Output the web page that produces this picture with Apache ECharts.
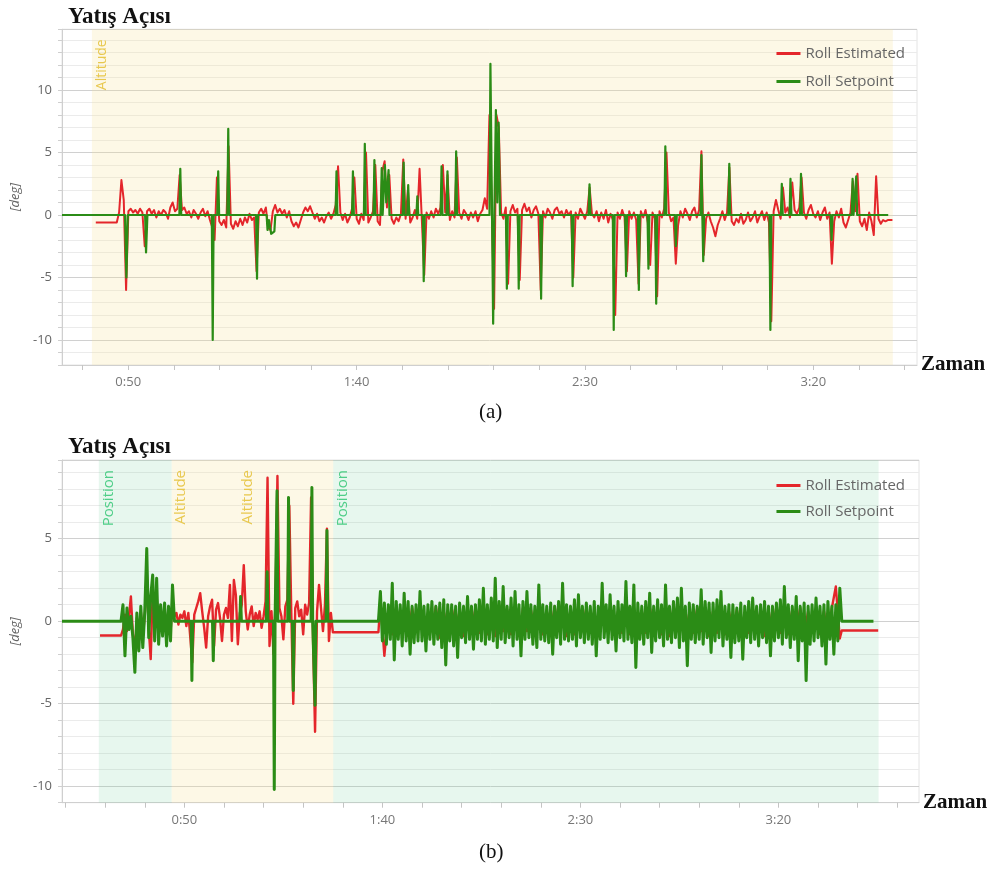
<!DOCTYPE html>
<html>
<head>
<meta charset="utf-8">
<title>Yatış Açısı</title>
<script src="https://cdn.jsdelivr.net/npm/echarts@6/dist/echarts.min.js"></script>
<style>
  html, body { margin: 0; padding: 0; background: #fff; }
  #chart { width: 992px; height: 870px; }
</style>
</head>
<body>
<div id="chart"></div>
<script>
// ---- chart (a) ----
// roll estimated, logged every 0.51 s starting at 42.9 s
const estA_t0 = 42.9, estA_dt = 0.51
const estA = [
  -0.6,-0.6,-0.6,-0.6,-0.6,-0.6,-0.6,-0.6,-0.6,-0.6,
  0.2,2.8,1.2,-6.0,0.3,0.5,0.2,0.4,0.1,0.5,
  0.2,-2.5,0.3,0.5,0.1,0.4,-0.2,0.3,0.0,0.4,
  0.2,-0.3,0.6,1.0,0.3,0.5,3.2,0.4,0.6,0.1,
  0.3,-0.2,0.4,0.1,-0.3,0.2,0.5,-0.1,0.3,-0.4,
  -1.0,-2.0,3.0,-0.5,-0.8,-0.4,-1.0,5.5,-0.7,-1.1,
  -0.5,-0.9,-0.3,-0.8,-0.2,-0.6,0.1,-0.4,-0.2,-4.5,
  0.2,0.5,0.1,0.6,-1.0,-1.2,0.3,0.8,0.2,0.5,
  0.1,0.4,-0.2,0.3,-0.5,-0.9,-0.6,-1.0,-0.4,0.2,
  0.6,0.3,0.7,0.2,-0.3,0.1,-0.5,-0.2,-0.6,-0.1,
  0.2,-0.3,0.1,0.8,3.9,0.2,-0.4,0.1,-0.6,-0.2,
  0.5,3.0,-0.3,-0.7,0.1,-0.4,5.0,-0.6,-0.2,0.3,
  4.0,-0.5,-0.8,3.5,4.3,0.6,3.2,-0.3,-0.7,-0.2,
  -0.5,0.1,4.45,-0.3,2.0,-0.6,-0.2,0.4,-0.3,3.7,
  -0.5,-4.8,0.2,-0.3,0.3,-0.2,0.5,0.1,0.6,4.0,
  0.2,3.2,-0.4,0.3,-0.2,4.6,0.2,-0.3,0.4,0.1,
  -0.4,0.2,-0.2,0.3,-0.5,0.1,0.4,1.35,0.5,8.0,
  0.3,-7.5,8.0,7.0,0.2,-0.3,0.6,-5.5,0.3,0.8,
  0.2,0.5,-5.2,0.4,0.9,0.3,0.6,-0.2,0.4,0.7,
  0.1,-6.0,0.3,-0.2,0.5,0.2,-0.3,0.4,0.6,0.1,
  0.3,-0.2,0.4,0.0,0.3,-5.0,0.2,-0.3,0.5,0.1,
  -0.3,0.3,2.2,0.1,-0.2,0.3,-0.5,0.2,-0.3,0.4,
  -0.6,0.1,-0.4,-8.0,0.2,-0.3,0.4,-0.2,-4.5,0.3,
  -0.3,0.2,-0.4,-5.5,0.3,-0.2,0.4,-0.6,-4.0,0.2,
  -0.3,-6.5,0.3,-0.2,0.5,5.0,0.2,-0.5,-0.2,-3.9,
  -0.8,0.3,-0.2,0.5,0.1,-0.4,0.3,0.6,-0.2,0.4,
  5.1,-3.2,-0.3,0.2,-0.5,-1.0,-1.7,-0.8,-0.3,0.3,
  -0.4,0.2,3.8,-0.5,-0.8,-0.3,-0.6,0.1,-0.7,-0.4,
  0.2,-0.5,-0.2,0.3,-0.6,-0.1,0.3,-0.4,0.2,-0.6,
  -8.5,0.3,1.2,0.4,-0.3,2.2,0.2,0.6,-0.2,2.6,
  0.4,0.1,0.6,3.0,0.2,-0.3,0.4,0.8,0.1,-0.2,
  0.3,-0.4,0.2,0.6,-0.3,0.2,-3.9,-0.5,0.3,-0.2,
  0.5,-0.6,-1.0,-0.4,0.2,2.7,0.3,3.3,-0.5,-0.9,
  -0.3,-1.2,0.2,-0.5,-1.6,3.1,-0.3,-0.7,-0.4,-0.5,
  -0.4,-0.4,-0.4
]
// roll setpoint [s, deg]
const setA = [
  [35.5,0],[49.3,0],[49.6,-5.0],[49.9,0],[53.7,0],[53.9,-3.0],[54.2,0],
  [61.2,0],[61.4,3.7],[61.6,0],[68.3,0],[68.5,-10.0],[68.7,0],[69.5,0],[69.7,3.5],[69.9,0],
  [71.7,0],[71.9,6.9],[72.1,0],[78.0,0],[78.2,-5.1],[78.4,0],
  [80.3,0],[80.5,-1.2],[80.8,-0.4],[81.3,-1.5],[82.0,-1.3],[82.2,0],
  [95.4,0],[95.6,3.5],[95.8,0],[99.0,0],[99.2,3.5],[99.4,0],[101.6,0],[101.8,5.7],[102.0,0],
  [103.7,0],[103.9,4.4],[104.1,0],[105.3,0],[105.5,3.75],[105.7,0],
  [106.0,0],[106.2,4.0],[106.5,1.0],[107.0,3.6],[107.2,0],
  [110.1,0],[110.3,4.2],[110.5,0],[111.1,0],[111.3,2.4],[111.5,0],[113.1,0],[113.3,1.5],[113.5,0],
  [114.5,0],[114.7,-5.3],[114.9,0],[118.4,0],[118.6,3.9],[118.8,0],[119.7,0],[119.9,3.5],[120.1,0],
  [121.6,0],[121.8,5.1],[122.0,0],
  [129.1,0],[129.3,12.1],[129.6,2.0],[129.9,-8.7],[130.2,1.0],[130.5,8.4],[130.8,1.0],[131.1,7.4],[131.4,0],
  [132.7,0],[132.9,-5.9],[133.1,0],[135.3,0],[135.5,-5.9],[135.7,0],[140.2,0],[140.4,-6.7],[140.6,0],
  [147.1,0],[147.3,-5.7],[147.5,0],[150.8,0],[151.0,2.45],[151.2,0],
  [156.1,0],[156.3,-9.2],[156.5,0],[158.8,0],[159.0,-4.9],[159.2,0],[161.6,0],[161.8,-6.0],[162.0,0],
  [163.7,0],[163.9,-4.3],[164.1,0],[165.4,0],[165.6,-7.1],[165.8,0],[167.4,0],[167.6,5.5],[167.8,0],
  [169.7,0],[169.9,-2.5],[170.1,0],[175.3,0],[175.5,4.8],[175.7,0],[175.9,-3.7],[176.1,0],
  [181.4,0],[181.6,4.1],[181.8,0],[190.4,0],[190.6,-9.2],[190.8,0],[192.9,0],[193.1,2.5],[193.3,0],
  [194.8,0],[195.0,2.9],[195.2,0],[197.1,0],[197.3,3.3],[197.5,0],[203.8,0],[204.0,-2.0],[204.2,0],
  [208.4,0],[208.6,2.9],[208.8,0],[209.2,0],[209.4,3.1],[209.6,0],[216.4,0]
]
const bandsA = [[42.05, 217.4, 'Altitude']]

// ---- chart (b) ----
const estB_pre = [[28.7,-0.87],[34.0,-0.87]]
const estB_burst_t0 = 34.5, estB_burst_dt = 0.5
const estB_burst = [
  -0.5,0.4,-0.6,0.3,1.5,-0.8,-1.8,0.2,-1.0,0.6,
  -0.9,0.3,3.0,-0.4,-2.3,1.8,-0.7,1.5,-0.8,0.6,
  -0.6,0.8,-0.9,0.5,-0.7,1.2,0.3,0.5,-0.2,0.4,
  0.2,0.6,-0.3,0.5,-1.0,-2.5,0.4,0.8,1.2,1.7,
  0.6,-0.4,-1.6,0.3,0.9,1.3,-1.5,0.7,1.1,0.2,
  -1.2,0.4,0.8,0.2,2.2,-1.2,2.5,1.6,-1.4,0.5,
  1.0,3.4,0.6,-0.5,0.4,0.9,-0.3,0.5,0.1,0.6,
  -0.4,0.3,1.2,8.7,-1.5,0.6,-2.0,1.0,8.8,0.8,
  0.3,-1.1,0.9,1.3,7.0,0.5,-5.0,0.8,1.2,0.3,
  0.7,-0.8,1.0,0.4,1.1,7.5,-1.2,-6.7,0.6,2.2,
  0.8,-0.6,1.0,5.6,-1.2,0.5,-0.67
]
const estB_hold = [[99.0,-0.67]]
const estB_dense_t0 = 99.5, estB_dense_dt = 1
const estB_dense = [
  1.2,-2.1,0.6,-0.8,0.9,-0.7,0.5,-0.9,0.8,-0.6,
  0.7,-0.8,0.5,-0.6,0.9,-1.0,0.6,-0.7,0.8,-0.5,
  0.6,-0.9,0.7,-0.6,0.8,-0.7,1.0,-0.8,0.6,-0.9,
  0.9,-0.6,0.7,-0.8,0.5,-0.9,0.8,-0.6,0.7,-0.7,
  0.8,-0.8,0.6,-0.7,0.9,-0.6,0.7,-0.9,0.5,-0.8,
  0.7,-0.6,0.8,-0.7,0.6,-0.9,0.9,-0.5,0.7,-0.8,
  0.6,-0.7,1.4,-0.8,0.8,-1.0,0.6,-0.7,0.9,-0.6,
  0.7,-0.8,0.6,-0.9,0.8,-0.6,0.7,-0.8,0.5,-0.7,
  0.8,-0.6,0.7,-0.9,0.6,-0.7,0.9,-0.8,0.6,-0.6,
  0.7,-0.8,0.5,-0.7,0.8,-0.6,0.6,-0.9,0.7,-0.8,
  0.9,-0.7,0.6,-0.8,0.7,-0.6,0.8,-0.9,0.6,-0.7,
  0.7,-0.8,0.6,-0.9,0.8,2.1,-1.05
]
const estB_post = [[216.0,-0.56],[225.2,-0.56]]

const setB_pre = [[19.1,0],[34.0,0]]
const setB_burst_t0 = 34.5, setB_burst_dt = 0.5
const setB_burst = [
  1.0,-2.1,0.8,-0.5,0.3,-1.0,-3.1,0.5,-1.8,0.9,
  -1.6,0.6,4.4,-1.0,1.5,2.8,-1.2,2.6,-1.4,1.0,
  -0.9,1.1,-1.5,0.9,-1.2,2.2
]
const setB_mid = [
  [47.5,0],[51.7,0],[51.9,-3.6],[52.1,0],[57.1,0],[57.3,-2.4],[57.5,0],[64.0,0],[64.2,1.5],[64.4,0],
  [70.7,0],[70.9,3.0],[71.1,0],[72.5,0],[72.7,-10.2],[72.9,0],[73.2,0],[73.4,7.9],[73.6,0],
  [76.1,0],[76.3,7.5],[76.5,0],[77.3,0],[77.5,-4.2],[77.7,0],[82.0,0],[82.2,8.1],[82.4,0],
  [82.8,0],[83.0,-5.1],[83.2,0],[85.8,0],[86.0,5.5],[86.2,0]
]
const setB_dense_t0 = 99.0, setB_dense_dt = 0.5
const setB_dense = [
  0,1.8,-1.2,1.1,-1.4,1.0,-1.1,2.3,-2.35,1.2,
  -1.1,1.0,-1.5,1.7,-1.2,1.2,-2.0,0.9,-1.3,1.0,
  -1.2,1.8,-1.2,0.9,-1.8,1.0,-1.1,1.2,-1.4,0.9,
  -1.1,1.1,-1.6,1.3,-2.65,1.0,-1.2,1.0,-1.5,0.9,
  -2.2,1.1,-1.0,0.9,-1.3,1.5,-1.1,0.9,-1.7,1.0,
  -1.1,1.3,-1.2,2.0,-1.4,1.0,-1.1,1.4,-1.2,2.6,
  -1.6,1.2,-1.1,2.1,-1.3,0.9,-1.0,1.4,-1.5,1.8,
  -1.1,1.0,-2.1,1.2,-1.1,1.8,-1.0,1.0,-1.4,0.9,
  -1.6,2.2,-1.1,1.0,-1.2,0.9,-1.3,1.1,-2.0,0.9,
  -1.0,1.2,-1.4,2.3,-1.1,1.0,-1.2,0.9,-1.1,1.3,
  -1.5,1.6,-1.0,0.9,-1.3,1.1,-1.1,0.9,-1.4,1.2,
  -2.1,0.9,-1.1,2.3,-1.0,1.0,-1.3,1.6,-1.1,0.9,
  -1.8,1.2,-1.0,1.0,-1.2,2.4,-1.1,0.9,-1.3,2.2,
  -2.8,1.1,-1.1,0.9,-1.4,1.2,-1.0,1.7,-1.9,0.9,
  -1.2,1.3,-1.0,1.0,-1.5,2.2,-1.1,0.9,-1.3,1.2,
  -1.0,1.4,-1.6,2.0,-1.2,0.9,-2.7,1.1,-1.1,1.0,
  -1.3,0.9,-1.1,1.9,-1.4,1.2,-1.0,1.1,-1.9,1.1,
  -1.2,1.3,-1.0,1.8,-1.5,0.9,-1.1,1.0,-2.2,1.0,
  -1.3,0.8,-1.2,1.1,-2.3,0.9,-1.0,1.2,-1.3,1.4,
  -1.1,0.9,-1.5,1.0,-1.0,1.2,-1.3,0.9,-2.1,0.9,
  -1.2,1.1,-1.0,1.3,-1.4,2.1,-1.0,1.0,-1.6,0.9,
  -1.1,1.5,-2.4,0.9,-1.2,1.1,-3.6,0.9,-1.4,1.0,
  -1.2,1.4,-1.0,0.9,-1.5,1.0,-2.6,1.2,-1.1,0.9,
  -2.0,1.0,-1.2,2.0,0
]
const setB_post = [[224.0,0]]
const bandsB = [[28.4, 46.8, 'Position'], [46.8, 63.6, 'Altitude'], [63.6, 87.6, 'Altitude'], [87.6, 225.3, 'Position']]

// axis ticks / labels (seconds)
const ticksA = [40, 50, 60, 70, 80, 90, 100, 110, 120, 130, 140, 150, 160, 170, 180, 190, 200, 210, 220]
const ticksB = [20, 30, 40, 50, 60, 70, 80, 90, 100, 110, 120, 130, 140, 150, 160, 170, 180, 190, 200, 210, 220, 230]
const timeLabels = [50, 100, 150, 200]

const RED = '#e4262b'
const GREEN = '#2b8c16'
const SANS = '"Open Sans", "Liberation Sans", sans-serif'
const SERIF = '"Liberation Serif", "DejaVu Serif", serif'
const modeStyle = {
  Altitude: { fill: 'rgba(245,225,150,0.24)', text: '#e8c84e' },
  Position: { fill: 'rgba(120,210,160,0.18)', text: '#4fce88' }
}

const stepped = (t0, dt, vals) => vals.map((v, i) => [+(t0 + i * dt).toFixed(2), v])
const fmtTime = v => Math.floor(v / 60) + ':' + String(Math.round(v % 60)).padStart(2, '0')

const estAData = stepped(estA_t0, estA_dt, estA)
const estBData = [].concat(estB_pre, stepped(estB_burst_t0, estB_burst_dt, estB_burst), estB_hold,
  stepped(estB_dense_t0, estB_dense_dt, estB_dense), estB_post)
const setBData = [].concat(setB_pre, stepped(setB_burst_t0, setB_burst_dt, setB_burst), setB_mid,
  stepped(setB_dense_t0, setB_dense_dt, setB_dense), setB_post)

// band labels are turned 90deg, so the offset works in the rotated frame
const bandArea = (bands, fontSize, offset) => ({
  silent: true,
  label: {
    show: true, position: 'insideTopLeft', rotate: 90, align: 'right', verticalAlign: 'top',
    distance: 0, offset, fontSize, fontFamily: SANS
  },
  data: bands.map(([from, to, mode]) => [
    { xAxis: from, name: mode, itemStyle: { color: modeStyle[mode].fill }, label: { color: modeStyle[mode].text } },
    { xAxis: to }
  ])
})

const xAxisFor = (grid, min, max, ticks) => ({
  gridIndex: grid, type: 'value', min, max,
  axisLine: { onZero: false, lineStyle: { color: '#cfcfcf' } },
  axisTick: { show: true, customValues: ticks, length: 5, lineStyle: { color: '#c4c4c4' } },
  axisLabel: { customValues: timeLabels, formatter: fmtTime, color: '#777', fontSize: 13, margin: 11, fontFamily: SANS },
  splitLine: { show: false },
  name: 'Zaman', nameLocation: 'end', nameGap: 4,
  nameTextStyle: { fontFamily: SERIF, fontWeight: 'bold', fontSize: 21, color: '#111', align: 'left', verticalAlign: 'middle' }
})

const yAxisFor = (grid, min, max, lineColors) => ({
  gridIndex: grid, type: 'value', min, max, interval: 1,
  axisLine: { show: true, onZero: false, lineStyle: { color: '#cfcfcf' } },
  axisTick: { show: true, length: 4, lineStyle: { color: '#cfcfcf' } },
  axisLabel: { formatter: v => (v % 5 === 0 ? String(v) : ''), color: '#666', fontSize: 13, margin: 10, fontFamily: SANS },
  splitLine: { show: true, lineStyle: { color: lineColors, width: 1 } },
  name: '[deg]', nameLocation: 'middle', nameGap: 35, nameRotate: 90,
  nameTextStyle: { fontStyle: 'italic', color: '#666', fontSize: 13, fontFamily: SANS }
})

const MINOR = '#ebebeb', MAJOR = '#d0d0d0'

const lineSeries = (name, color, data, xi, width, extra) => Object.assign({
  name, type: 'line', xAxisIndex: xi, yAxisIndex: xi, data,
  showSymbol: false, symbol: 'none', sampling: null, color,
  lineStyle: { color, width, join: 'round' }
}, extra || {})

const chart = echarts.init(document.getElementById('chart'), null, { renderer: 'canvas' })

chart.setOption({
  animation: false,
  backgroundColor: '#fff',
  title: [
    { text: 'Yatış Açısı', left: 63, top: 1, textStyle: { fontFamily: SERIF, fontWeight: 'bold', fontSize: 23, color: '#111' } },
    { text: 'Yatış Açısı', left: 63, top: 431, textStyle: { fontFamily: SERIF, fontWeight: 'bold', fontSize: 23, color: '#111' } },
    { text: '(a)', left: 474, top: 397, textStyle: { fontFamily: SERIF, fontWeight: 'normal', fontSize: 21, color: '#111' } },
    { text: '(b)', left: 474, top: 837, textStyle: { fontFamily: SERIF, fontWeight: 'normal', fontSize: 21, color: '#111' } }
  ],
  legend: [
    {
      data: ['Roll Estimated', 'Roll Setpoint'], orient: 'vertical', right: 82, top: 41,
      icon: 'rect', itemWidth: 24, itemHeight: 3, itemGap: 13,
      textStyle: { color: '#666', fontSize: 15, fontFamily: SANS }
    },
    {
      data: ['Roll Estimated', 'Roll Setpoint'], orient: 'vertical', right: 82, top: 473,
      icon: 'rect', itemWidth: 24, itemHeight: 3, itemGap: 11,
      textStyle: { color: '#666', fontSize: 15, fontFamily: SANS }
    }
  ],
  grid: [
    { left: 62, top: 29.3, width: 855, height: 335.7, show: true, borderColor: '#e4e4e4', borderWidth: 1, backgroundColor: 'transparent' },
    { left: 62, top: 460, width: 857, height: 342.7, show: true, borderColor: '#e4e4e4', borderWidth: 1, backgroundColor: 'transparent' }
  ],
  xAxis: [
    xAxisFor(0, 35.5, 222.7, ticksA),
    xAxisFor(1, 19.1, 235.5, ticksB)
  ],
  yAxis: [
    yAxisFor(0, -12, 14.86, [MINOR, MINOR, MAJOR, MINOR, MINOR]),
    yAxisFor(1, -11, 9.77, [MINOR, MAJOR, MINOR, MINOR, MINOR])
  ],
  series: [
    lineSeries('Roll Estimated', RED, estAData, 0, 2, { markArea: bandArea(bandsA, 14, [-10, 3]), z: 2 }),
    lineSeries('Roll Setpoint', GREEN, setA, 0, 2.2, { z: 3 }),
    lineSeries('Roll Estimated', RED, estBData, 1, 2.4, { markArea: bandArea(bandsB, 15, [-10, 2]), z: 2 }),
    lineSeries('Roll Setpoint', GREEN, setBData, 1, 3, { z: 3 })
  ]
})

window.addEventListener('resize', () => chart.resize())
</script>
</body>
</html>
